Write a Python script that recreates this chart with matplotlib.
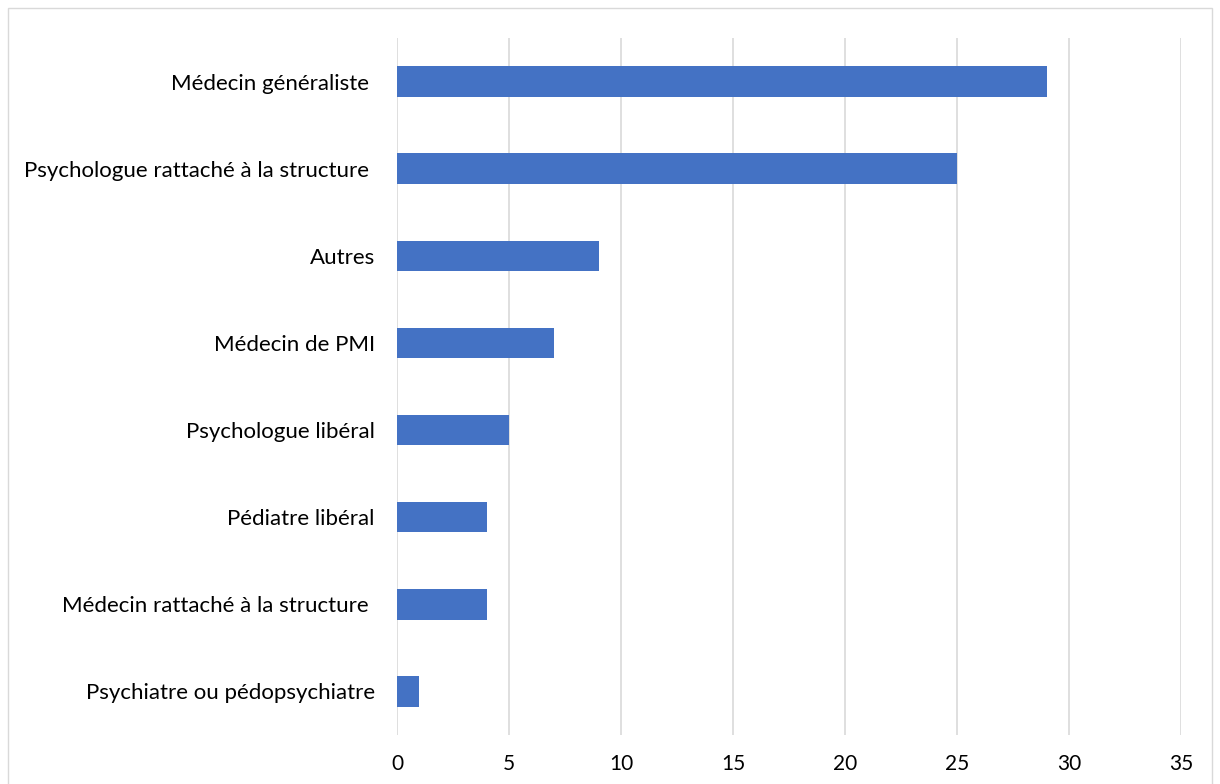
import matplotlib
matplotlib.use("Agg")
import matplotlib.pyplot as plt
from matplotlib.patches import Rectangle

categories = ["Médecin généraliste ", "Psychologue rattaché à la structure ", "Autres",
              "Médecin de PMI", "Psychologue libéral", "Pédiatre libéral",
              "Médecin rattaché à la structure ", "Psychiatre ou pédopsychiatre"]
values = [29, 25, 9, 7, 5, 4, 4, 1]
xticks = [0, 5, 10, 15, 20, 25, 30, 35]

plt.rcParams['font.family'] = ['Lato', 'DejaVu Sans']
fig = plt.figure(figsize=(12.2, 7.84), dpi=100)
ax = fig.add_axes([397/1220, 1-735/784, (1181-397)/1220, (735-38)/784])

pos = list(range(len(categories)))[::-1]
ax.barh(pos, values, height=0.35, color="#4472C4", zorder=3)
ax.set_ylim(-0.5, len(categories)-0.5)
ax.set_xlim(0, 35)
ax.set_xticks(xticks)
ax.set_yticks(pos)
ax.set_yticklabels(categories, fontsize=16, color="#000000")
ax.tick_params(axis='x', labelsize=15, length=0, pad=14)
ax.tick_params(axis='y', length=0, pad=16)
ax.grid(axis='x', color="#d9d9d9", linewidth=1.2, zorder=0)
for s in ax.spines.values():
    s.set_visible(False)

fig.patches.append(Rectangle((8/1220, -0.01), (1212-8)/1220, 1-8/784+0.01,
                             transform=fig.transFigure, fill=False,
                             edgecolor="#d9d9d9", linewidth=1))
fig.savefig("out.png", dpi=100)
